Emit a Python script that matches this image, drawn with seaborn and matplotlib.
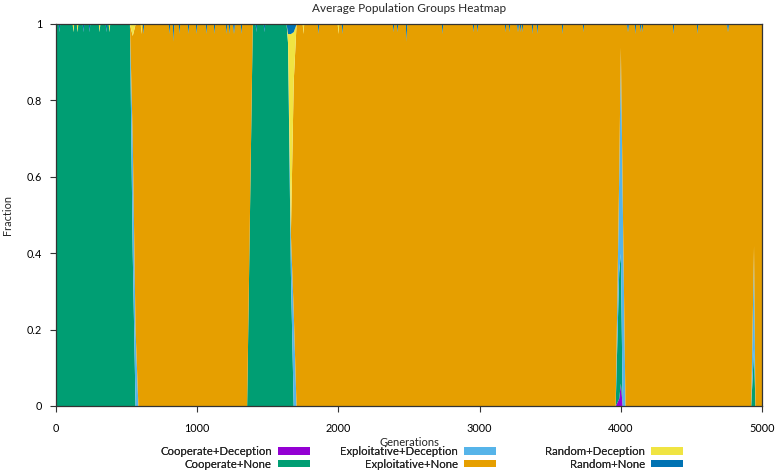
import numpy as np
import pandas as pd
import seaborn as sns
import matplotlib
matplotlib.use("Agg")
import matplotlib.pyplot as plt
from matplotlib.patches import Patch
from matplotlib.ticker import FuncFormatter

groups = ["Cooperate+Deception", "Cooperate+None",
          "Exploitative+Deception", "Exploitative+None",
          "Random+Deception", "Random+None"]
colors = ["#9400d3", "#009e73", "#56b4e9", "#e69f00", "#f0e442", "#0072b2"]

# main composition, read at the turning points
gens      = [0, 520, 540, 560, 580, 1350, 1390, 1630, 1640, 1660, 1680, 1700,
             3960, 3985, 3997, 4010, 4030, 4920, 4940, 4950, 5000]
coop_dec  = [0, 0, 0, 0, 0, 0, 0, 0, 0, 0, 0, 0,
             0, 0.02, 0.06, 0, 0, 0, 0, 0, 0]
coop_none = [1, 1, 0.4, 0, 0, 0, 1, 1, 0.95, 0.35, 0, 0,
             0, 0.33, 0.34, 0, 0, 0, 0.15, 0, 0]
expl_dec  = [0, 0, 0.3, 0.2, 0, 0, 0, 0, 0, 0.1, 0.25, 0,
             0, 0.25, 0.54, 0.55, 0, 0, 0.27, 0, 0]
expl_none = [0, 0, 0.27, 0.8, 1, 1, 0, 0, 0, 0, 0.6, 1,
             1, 0.4, 0.06, 0.45, 1, 1, 0.58, 1, 1]
rand_dec  = [0, 0, 0.03, 0, 0, 0, 0, 0, 0.025, 0.525, 0.13, 0,
             0, 0, 0, 0, 0, 0, 0, 0, 0]
rand_none = [0, 0, 0, 0, 0, 0, 0, 0, 0.025, 0.025, 0.02, 0,
             0, 0, 0, 0, 0, 0, 0, 0, 0]

# short one-generation blips at the top of the stack
spike_gen = [21, 120, 149, 191, 234, 305, 354, 375,
             602, 616, 800, 829, 871, 935, 992, 1062, 1119, 1204, 1225, 1254, 1261, 1310,
             1416, 1473,
             1749, 1856, 1997, 2025, 2387, 2415, 2479, 2734, 2953, 2982, 3180, 3208,
             3265, 3272, 3286, 3300, 3371, 3406, 3584, 3732, 4044, 4051, 4100, 4136,
             4150, 4370, 4540, 4752, 4759]
spike_group = ["Random+None", "Random+Deception", "Random+Deception", "Random+None",
               "Random+None", "Random+Deception", "Random+None", "Random+Deception",
               "Random+Deception", "Random+None", "Random+None", "Random+None",
               "Random+None", "Random+None", "Random+None", "Random+None", "Random+None",
               "Random+None", "Random+None", "Random+None", "Random+None", "Random+None",
               "Random+None", "Random+None",
               "Random+Deception", "Random+None", "Random+Deception", "Random+None",
               "Random+None", "Random+None", "Random+None", "Random+None", "Random+None",
               "Random+None", "Random+None", "Random+None", "Random+None", "Random+None",
               "Random+None", "Random+None", "Random+None", "Random+None", "Random+None",
               "Random+None", "Random+None", "Random+None", "Random+None", "Random+None",
               "Random+None", "Random+None", "Random+None", "Random+None", "Random+None"]
spike_frac = [0.02, 0.02, 0.02, 0.02, 0.02, 0.02, 0.02, 0.02,
              0.025, 0.025, 0.025, 0.045, 0.025, 0.025, 0.025, 0.025, 0.025, 0.025,
              0.025, 0.025, 0.025, 0.025,
              0.02, 0.02,
              0.025, 0.025, 0.025, 0.025, 0.02, 0.02, 0.045, 0.025, 0.02, 0.02, 0.02,
              0.02, 0.02, 0.02, 0.02, 0.02, 0.025, 0.025, 0.025, 0.02, 0.02, 0.02,
              0.025, 0.02, 0.02, 0.025, 0.025, 0.02, 0.02]

base = pd.DataFrame(dict(zip(groups, [coop_dec, coop_none, expl_dec,
                                      expl_none, rand_dec, rand_none])), index=gens)
extra = []
for g, grp, h in zip(spike_gen, spike_group, spike_frac):
    ref = base.loc[base.index <= g].iloc[-1]
    dom = ref.idxmax()
    for dx, f in ((-5, 0.0), (0, h), (5, 0.0)):
        row = ref.copy()
        row[dom] -= f
        row[grp] += f
        extra.append(row.rename(g + dx))
df = pd.concat([base, pd.DataFrame(extra)]).sort_index()

sns.set_theme(style="ticks")
plt.rcParams["font.family"] = ["Lato", "DejaVu Sans"]
pal = sns.color_palette(colors)

fig = plt.figure(figsize=(7.77, 4.74), dpi=100)
ax = fig.add_axes([56 / 777, 1 - 406 / 474, 706 / 777, 382 / 474])
ax.stackplot(df.index, *[df[g].values for g in groups], colors=pal,
             labels=groups, linewidth=0)

ax.set_xlim(0, 5000)
ax.set_ylim(0, 1)
ax.set_xticks([0, 1000, 2000, 3000, 4000, 5000])
ax.set_yticks([0, 0.2, 0.4, 0.6, 0.8, 1])
ax.yaxis.set_major_formatter(FuncFormatter(lambda v, p: f"{v:g}"))
ax.tick_params(direction="out", length=4, width=0.8, color="#333333",
               labelsize=7.8, pad=6, labelcolor="black")
ax.tick_params(axis="x", pad=8)
for s in ax.spines.values():
    s.set_visible(True)
    s.set_color("#333333")
    s.set_linewidth(0.9)
    s.set_zorder(5)

fig.text(409 / 777, 1 - 8 / 474, "Average Population Groups Heatmap",
         ha="center", va="center", fontsize=8.5)
fig.text(8 / 777, 1 - 215 / 474, "Fraction", rotation=90,
         ha="center", va="center", fontsize=7.8)
fig.text(409 / 777, 1 - 442 / 474, "Generations",
         ha="center", va="center", fontsize=8)

handles = [Patch(facecolor=c, edgecolor="none") for c in pal]
for i, xr in enumerate([310, 496, 683]):
    leg = fig.legend(handles[2 * i:2 * i + 2], groups[2 * i:2 * i + 2],
                     loc="upper right", bbox_to_anchor=(xr / 777, 1 - 446 / 474),
                     frameon=False, markerfirst=False, fontsize=8.2,
                     handlelength=2.8, handleheight=0.6, handletextpad=0.55,
                     labelspacing=0.15, borderpad=0, borderaxespad=0)
    fig.add_artist(leg)

fig.savefig("out.png", dpi=100)
